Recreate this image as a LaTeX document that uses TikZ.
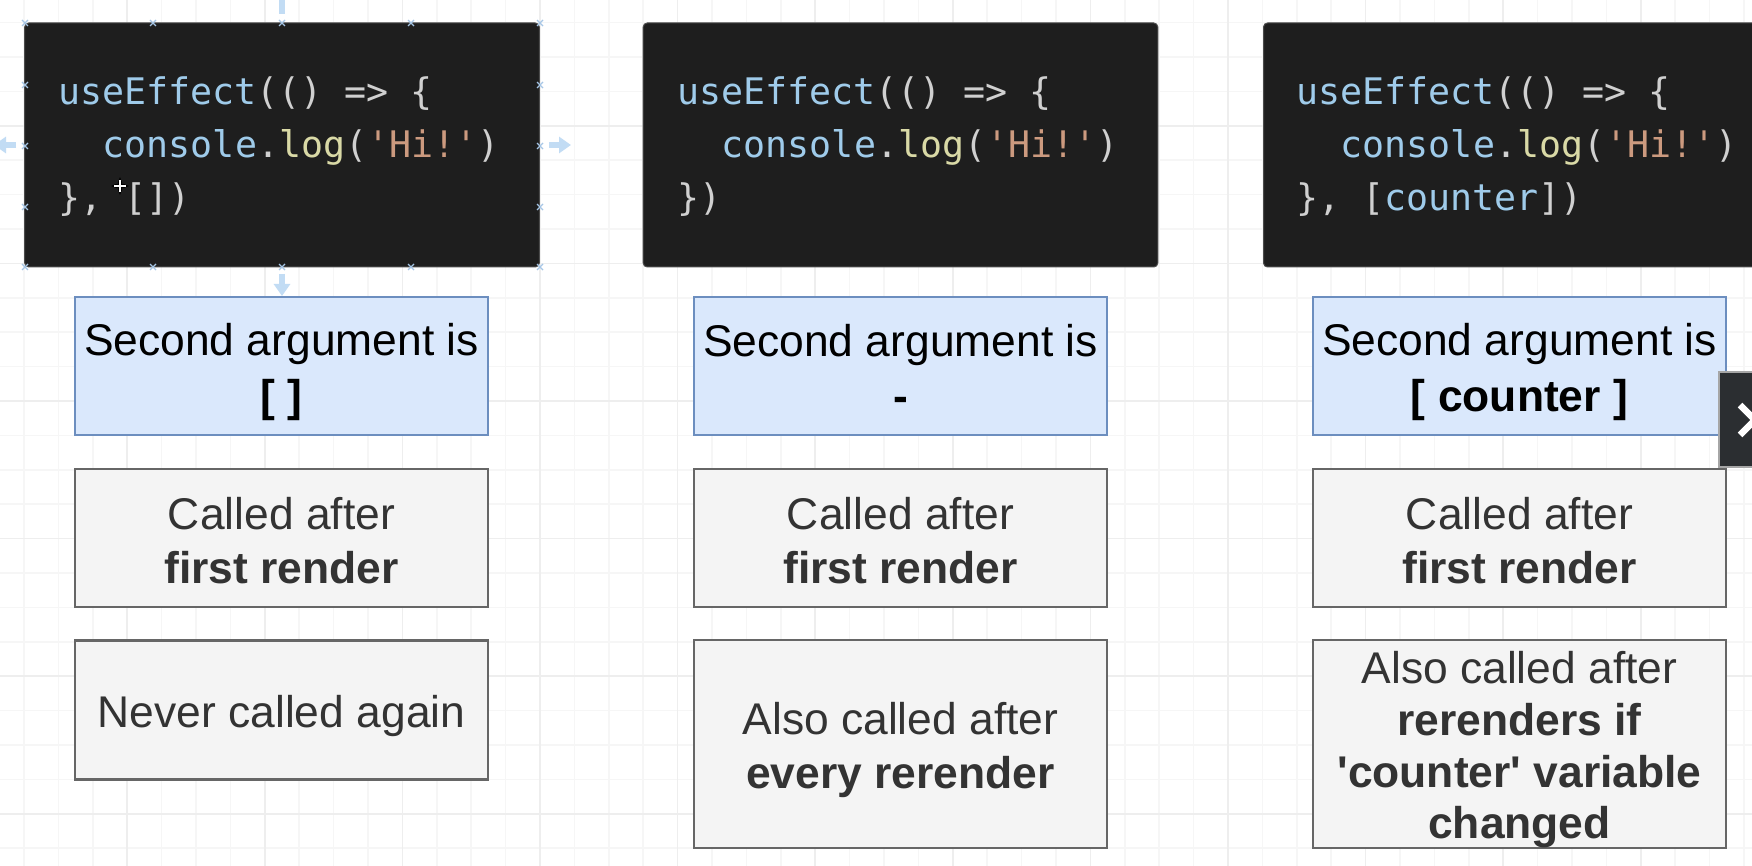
\documentclass[tikz,border=0pt]{standalone}
\usepackage{fontspec}
\setmainfont{Liberation Sans}
\setmonofont{DejaVu Sans Mono}
\usetikzlibrary{arrows.meta}

\definecolor{gridminor}{HTML}{F6F6F6}
\definecolor{gridmajor}{HTML}{EEEEEE}
\definecolor{codebg}{HTML}{1E1E1E}
\definecolor{codeid}{HTML}{9FCBEA}
\definecolor{codefn}{HTML}{D9D9A6}
\definecolor{codestr}{HTML}{CC9A7F}
\definecolor{codepun}{HTML}{D0D0D0}
\definecolor{argfill}{HTML}{DAE8FC}
\definecolor{argedge}{HTML}{6C8EBF}
\definecolor{callfill}{HTML}{F4F4F4}
\definecolor{calledge}{HTML}{666666}
\definecolor{calltext}{HTML}{333333}
\definecolor{hoverblue}{HTML}{C2DCF4}
\definecolor{handleblue}{HTML}{A6C6E6}
\definecolor{btnfill}{HTML}{2B2E31}

\newcommand{\cid}[1]{\textcolor{codeid}{#1}}
\newcommand{\cfn}[1]{\textcolor{codefn}{#1}}
\newcommand{\cstr}[1]{\textcolor{codestr}{#1}}
\newcommand{\cpun}[1]{\textcolor{codepun}{#1}}
\newcommand{\lnstrut}{\rule[-4pt]{0pt}{26pt}}

\tikzset{
  codebox/.style={fill=codebg, draw=codebg!80!white, line width=0.5pt, rounded corners=2pt,
    minimum width=257.3pt, minimum height=122pt, inner sep=0pt},
  codeline/.style={anchor=base west, inner sep=0pt, font=\ttfamily\fontsize{18.3}{26.6}\selectfont},
  textbox/.style={line width=1.3pt, minimum width=206.5pt, align=center, inner sep=0pt,
    font=\fontsize{22.2}{25.8}\selectfont},
  argbox/.style={textbox, draw=argedge, fill=argfill, minimum height=69pt},
  callbox/.style={textbox, draw=calledge, fill=callfill, text=calltext},
  hover/.style={draw=hoverblue, line width=2.6pt, -{Triangle[length=6pt,width=8pt]}},
  handle/.style={draw=handleblue, line width=0.6pt}
}

\begin{document}
\begin{tikzpicture}[x=0.5pt, y=-0.5pt]
  \useasboundingbox (0,0) rectangle (1752,866);
  \fill[white] (0,0) rectangle (1752,866);
  % grid
  \begin{scope}
    \clip (0,0) rectangle (1752,866);
    \foreach \i in {0,...,50}
      \draw[gridminor, line width=0.75pt] (24+34.4*\i,0) -- (24+34.4*\i,866);
    \foreach \i in {0,...,25}
      \draw[gridminor, line width=0.75pt] (0,22.6+34.4*\i) -- (1752,22.6+34.4*\i);
    \foreach \i in {0,...,11}
      \draw[gridmajor, line width=0.75pt] (127.2+137.6*\i,0) -- (127.2+137.6*\i,866);
    \foreach \i in {0,...,5}
      \draw[gridmajor, line width=0.75pt] (0,125.8+137.6*\i) -- (1752,125.8+137.6*\i);
  \end{scope}

  % hover arrows round the first code box
  \coordinate (hvtop) at (282,14);
  \coordinate (hvbot) at (282,274);
  \coordinate (hvleft) at (16,145);
  \coordinate (hvright) at (549,145);
  \draw[hover] (hvtop) -- ++(0,-30);
  \draw[hover] (hvbot) -- ++(0,22);
  \draw[hover] (hvleft) -- ++(-22,0);
  \draw[hover] (hvright) -- ++(22,0);

  % code boxes
  \node[codebox] (code1) at (282,145) {};
  \node[codebox] (code2) at (900.5,145) {};
  \node[codebox] (code3) at (1520.8,145) {};

  \node[codeline] (code1a) at (58,105) {\cid{useEffect}\cpun{(() => \{}};
  \node[codeline] (code1b) at (102.4,158) {\cid{console}\cpun{.}\cfn{log}\cpun{(}\cstr{'Hi!'}\cpun{)}};
  \node[codeline] (code1c) at (58,211) {\cpun{\}, [])}};

  \node[codeline] (code2a) at (677,105) {\cid{useEffect}\cpun{(() => \{}};
  \node[codeline] (code2b) at (721.4,158) {\cid{console}\cpun{.}\cfn{log}\cpun{(}\cstr{'Hi!'}\cpun{)}};
  \node[codeline] (code2c) at (677,211) {\cpun{\})}};

  \node[codeline] (code3a) at (1296,105) {\cid{useEffect}\cpun{(() => \{}};
  \node[codeline] (code3b) at (1340.4,158) {\cid{console}\cpun{.}\cfn{log}\cpun{(}\cstr{'Hi!'}\cpun{)}};
  \node[codeline] (code3c) at (1296,211) {\cpun{\}, [}\cid{counter}\cpun{])}};

  % selection handles and cursor on the first code box
  \foreach \hx in {25,153,282,411,540}
    \foreach \hy in {23,267}
      \draw[handle] (\hx-3,\hy-3) -- (\hx+3,\hy+3) (\hx-3,\hy+3) -- (\hx+3,\hy-3);
  \foreach \hy in {85,146,207}
    \foreach \hx in {25,540}
      \draw[handle] (\hx-3,\hy-3) -- (\hx+3,\hy+3) (\hx-3,\hy+3) -- (\hx+3,\hy-3);
  \draw[black, line width=2pt, {Stealth[length=3pt]}-{Stealth[length=3pt]}] (111,186) -- (129,186);
  \draw[black, line width=2pt, {Stealth[length=3pt]}-{Stealth[length=3pt]}] (120,177) -- (120,195);
  \draw[white, line width=0.8pt] (114,186) -- (126,186) (120,180) -- (120,192);

  % second argument
  \node[argbox] (arg1) at (281.5,366) {\lnstrut Second argument is\\\textbf{[ ]}\lnstrut};
  \node[argbox] (arg2) at (900.5,366) {\lnstrut Second argument is\\\textbf{-}\lnstrut};
  \node[argbox] (arg3) at (1519.5,366) {\lnstrut Second argument is\\\textbf{[ counter ]}\lnstrut};

  % first call
  \node[callbox, minimum height=69pt] (first1) at (281.5,538) {\lnstrut Called after\\\textbf{first render}\lnstrut};
  \node[callbox, minimum height=69pt] (first2) at (900.5,538) {\lnstrut Called after\\\textbf{first render}\lnstrut};
  \node[callbox, minimum height=69pt] (first3) at (1519.5,538) {\lnstrut Called after\\\textbf{first render}\lnstrut};

  % later calls
  \node[callbox, minimum height=69.5pt] (again1) at (281.5,710) {\lnstrut Never called again};
  \node[callbox, minimum height=104pt] (again2) at (900.5,744) {\lnstrut Also called after\\\textbf{every rerender}\lnstrut};
  \node[callbox, minimum height=104pt] (again3) at (1519.5,744) {\lnstrut Also called after\\\textbf{rerenders if}\\\textbf{\textquotesingle counter\textquotesingle\ variable}\\\textbf{changed}\lnstrut};

  % slide button
  \fill[btnfill] (1719,372) rectangle (1760,467);
  \draw[gray!70, line width=0.6pt] (1760,372) -- (1719,372) -- (1719,467) -- (1760,467);
  \draw[white, line width=3.2pt] (1740,405) -- (1755,420) -- (1740,435);
\end{tikzpicture}
\end{document}
